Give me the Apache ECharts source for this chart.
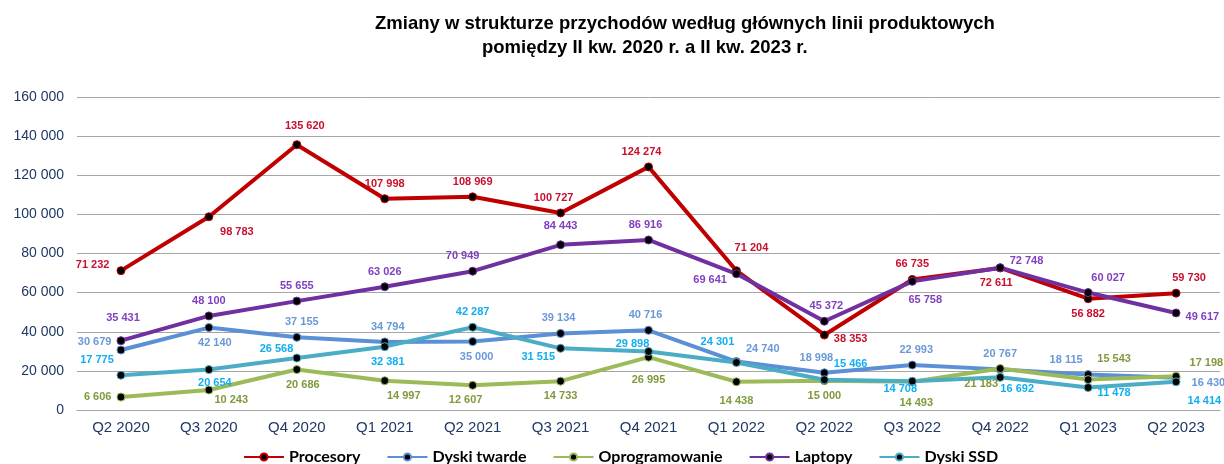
<!DOCTYPE html>
<html><head><meta charset="utf-8">
<script src="https://cdn.jsdelivr.net/npm/echarts@6/dist/echarts.min.js"></script>
<style>html,body{margin:0;padding:0;background:#fff}#c{width:1224px;height:464px}</style>
</head><body><div id="c"></div>
<script>
const categories = ['Q2 2020','Q3 2020','Q4 2020','Q1 2021','Q2 2021','Q3 2021','Q4 2021','Q1 2022','Q2 2022','Q3 2022','Q4 2022','Q1 2023','Q2 2023'];
const procesory = [71232, 98783, 135620, 107998, 108969, 100727, 124274, 71204, 38353, 66735, 72611, 56882, 59730];
const dyskiTwarde = [30679, 42140, 37155, 34794, 35000, 39134, 40716, 24740, 18998, 22993, 20767, 18115, 16430];
const oprogramowanie = [6606, 10243, 20686, 14997, 12607, 14733, 26995, 14438, 15000, 14493, 21183, 15543, 17198];
const laptopy = [35431, 48100, 55655, 63026, 70949, 84443, 86916, 69641, 45372, 65758, 72748, 60027, 49617];
const dyskiSSD = [17775, 20654, 26568, 32381, 42287, 31515, 29898, 24301, 15466, 14708, 16692, 11478, 14414];
const yTicks = [0, 20000, 40000, 60000, 80000, 100000, 120000, 140000, 160000];

// label placement (style only)
const placeProc = [['left',-2,-6],['bottom',28,0],['top',8,-4],['top',0,0],['top',0,0],['top',-7,0],['top',-7,0],['top',15,-8],['right',0,4],['top',0,0],['bottom',-4,0],['bottom',0,0],['top',13,0]];
const placeHdd = [['left',0,-8],['bottom',6,0],['top',5,0],['top',3,0],['bottom',4,0],['top',-2,0],['top',-3,0],['right',0,-13],['top',-8,0],['top',4,0],['top',0,0],['top',-22,0],['right',6,5]];
const placeSoft = [['left',0,0],['right',-4,10],['bottom',6,0],['bottom',19,0],['bottom',-7,0],['bottom',0,0],['bottom',0,8],['bottom',0,4],['bottom',0,0],['bottom',4,6],['bottom',-19,0],['top',26,-6],['right',4,-13]];
const placeLap = [['top',2,-8],['top',0,0],['top',0,0],['top',0,0],['top',-10,0],['top',0,-4],['top',-3,0],['left',0,6],['top',2,0],['bottom',13,4],['right',0,-7],['top',20,0],['right',0,4]];
const placeSsd = [['top',-24,0],['bottom',6,-2],['left',6,-9],['bottom',3,0],['top',0,0],['left',4,9],['top',-16,7],['top',-19,-5],['right',0,-16],['bottom',-12,-7],['bottom',17,-3],['right',0,5],['right',2,19]];

const fmt = v => String(v).replace(/\B(?=(\d{3})+(?!\d))/g, ' ');
const FONT = 'Liberation Sans, Arial, sans-serif';

function mk(name, values, lineColor, labelColor, place) {
  return {
    name, type: 'line', data: values.map((v, i) => ({
      value: v,
      label: { position: place[i][0], offset: [place[i][1], place[i][2]] }
    })),
    symbol: 'circle', symbolSize: 8,
    lineStyle: { color: lineColor, width: 4 },
    itemStyle: { color: '#000', borderColor: lineColor, borderWidth: 1 },
    label: { show: true, formatter: p => fmt(p.value), color: labelColor, fontSize: 11, fontWeight: 'bold', fontFamily: FONT },
    emphasis: { disabled: true },
    animation: false, z: 2
  };
}

const chart = echarts.init(document.getElementById('c'), null, { renderer: 'canvas' });
chart.setOption({
  animation: false,
  backgroundColor: '#fff',
  title: [
    { text: 'Zmiany w strukturze przychodów według głównych linii produktowych', left: 370, top: 9,
      textStyle: { fontSize: 18.5, fontWeight: 'bold', color: '#000', fontFamily: FONT } },
    { text: 'pomiędzy II kw. 2020 r. a II kw. 2023 r.', left: 477, top: 33,
      textStyle: { fontSize: 18.5, fontWeight: 'bold', color: '#000', fontFamily: FONT } }
  ],
  legend: {
    left: 238, top: 444, itemWidth: 40, itemHeight: 9, itemGap: 26,
    textStyle: { fontSize: 16, fontWeight: 'bold', color: '#000', fontFamily: 'Lato, sans-serif' },
    data: ['Procesory', 'Dyski twarde', 'Oprogramowanie', 'Laptopy', 'Dyski SSD']
  },
  grid: { left: 77, right: 4, top: 97, bottom: 54, containLabel: false },
  xAxis: {
    type: 'category', data: categories, boundaryGap: true,
    axisLine: { lineStyle: { color: '#a6a6a6', width: 1 } },
    axisTick: { show: false },
    axisLabel: { color: '#1f3864', fontSize: 15, fontFamily: FONT, margin: 10 }
  },
  yAxis: {
    type: 'value', min: yTicks[0], max: yTicks[yTicks.length - 1], interval: yTicks[1] - yTicks[0],
    axisLine: { show: false }, axisTick: { show: false },
    splitLine: { lineStyle: { color: '#a6a6a6', width: 1 } },
    axisLabel: { color: '#1f3864', fontSize: 14, fontFamily: FONT, margin: 13, formatter: v => fmt(v) }
  },
  series: [
    mk('Procesory', procesory, '#c00000', '#c8102e', placeProc),
    mk('Dyski twarde', dyskiTwarde, '#5b8fd6', '#6a98d8', placeHdd),
    mk('Oprogramowanie', oprogramowanie, '#9bbb59', '#7f9a3c', placeSoft),
    mk('Laptopy', laptopy, '#7030a0', '#7f3fbf', placeLap),
    mk('Dyski SSD', dyskiSSD, '#4bacc6', '#10aef0', placeSsd)
  ]
});
</script></body></html>
